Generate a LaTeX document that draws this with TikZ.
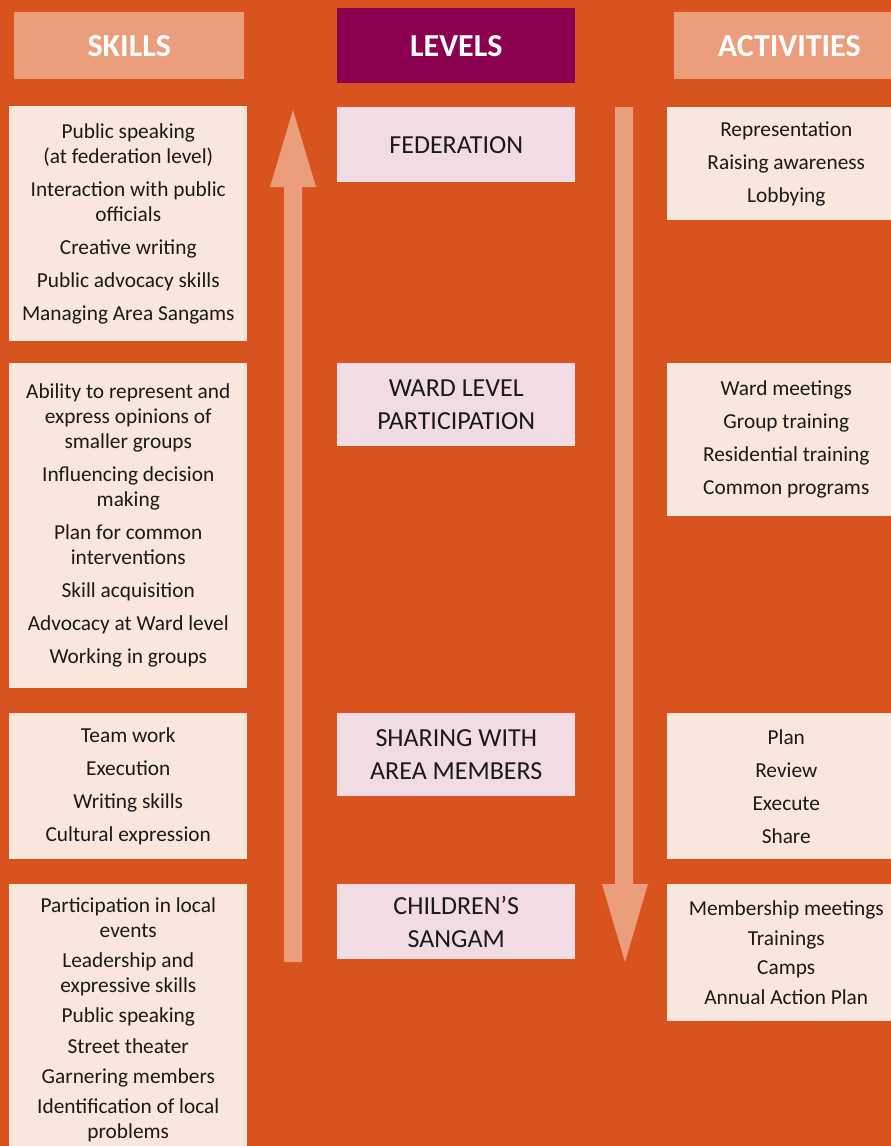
\documentclass[tikz,border=0pt]{standalone}
\usepackage{fontspec}
\setmainfont{Carlito}

\definecolor{bgorange}{HTML}{D9531F}
\definecolor{headpeach}{HTML}{EB9E7B}
\definecolor{levelmaroon}{HTML}{8B004F}
\definecolor{itemcream}{HTML}{F9E6DC}
\definecolor{levelpink}{HTML}{F1DCE5}
\definecolor{inktext}{HTML}{1A1A1A}

\def\px{0.75pt}

\tikzset{
  header/.style={fill=headpeach, text=white, inner sep=0pt, anchor=north west,
    font=\fontsize{24}{28}\selectfont\bfseries, minimum width=230*\px, minimum height=67*\px},
  itembox/.style={fill=itemcream, text=inktext, inner sep=0pt, anchor=north west, align=center,
    font=\fontsize{16}{18.75}\selectfont, minimum width=238*\px},
  levelbox/.style={fill=levelpink, text=inktext, inner sep=0pt, anchor=north west, align=center,
    font=\fontsize{19.5}{24.75}\selectfont, minimum width=238*\px},
  flowarrow/.style={fill=headpeach}
}

\begin{document}
\begin{tikzpicture}[x=\px, y=-\px]
% Page and background
\useasboundingbox (0,0) rectangle (891,1146);
\fill[bgorange] (0,0) rectangle (891,1146);

% Column headers
\node[header] (skillshead) at (14,12) {SKILLS};
\node[header, fill=levelmaroon, minimum width=238*\px, minimum height=75*\px] (levelshead) at (337,8) {LEVELS};
\node[header] (activhead) at (674,12) {ACTIVITIES};

% Arrows between the levels (up on the skills side, down on the activities side)
\fill[flowarrow] (284,962) -- (284,187) -- (270,187) -- (293,110) -- (316,187) -- (302,187) -- (302,962) -- cycle;
\fill[flowarrow] (615,107) -- (615,884) -- (602,884) -- (625,962) -- (648,884) -- (633,884) -- (633,107) -- cycle;

% Levels
\node[levelbox, minimum height=75*\px] (federation) at (337,107) {FEDERATION};
\node[levelbox, minimum height=83*\px] (ward) at (337,363) {WARD LEVEL\\PARTICIPATION};
\node[levelbox, minimum height=83*\px] (sharing) at (337,713) {SHARING WITH\\AREA MEMBERS};
\node[levelbox, minimum height=75*\px] (sangam) at (337,884) {CHILDREN’S\\SANGAM};

% Skills
\node[itembox, minimum height=235*\px] (skillfed) at (9,106)
  {Public speaking\\(at federation level)\\[6pt]Interaction with public\\officials\\[6pt]Creative writing\\[6pt]Public advocacy skills\\[6pt]Managing Area Sangams};
\node[itembox, minimum height=325*\px] (skillward) at (9,363)
  {Ability to represent and\\express opinions of\\smaller groups\\[6pt]Influencing decision\\making\\[6pt]Plan for common\\interventions\\[6pt]Skill acquisition\\[6pt]Advocacy at Ward level\\[6pt]Working in groups};
\node[itembox, minimum height=146*\px] (skillshare) at (9,713)
  {Team work\\[6pt]Execution\\[6pt]Writing skills\\[6pt]Cultural expression};
\node[itembox, minimum height=271*\px] (skillsangam) at (9,884)
  {Participation in local\\events\\[4pt]Leadership and\\expressive skills\\[4pt]Public speaking\\[4pt]Street theater\\[4pt]Garnering members\\[4pt]Identification of local\\problems};

% Activities
\node[itembox, minimum height=113*\px] (actfed) at (667,107)
  {Representation\\[6pt]Raising awareness\\[6pt]Lobbying};
\node[itembox, minimum height=153*\px] (actward) at (667,363)
  {Ward meetings\\[6pt]Group training\\[6pt]Residential training\\[6pt]Common programs};
\node[itembox, minimum height=146*\px] (actshare) at (667,713)
  {Plan\\[6pt]Review\\[6pt]Execute\\[6pt]Share};
\node[itembox, minimum height=137*\px] (actsangam) at (667,884)
  {Membership meetings\\[3.4pt]Trainings\\[3.4pt]Camps\\[3.4pt]Annual Action Plan};
\end{tikzpicture}
\end{document}
